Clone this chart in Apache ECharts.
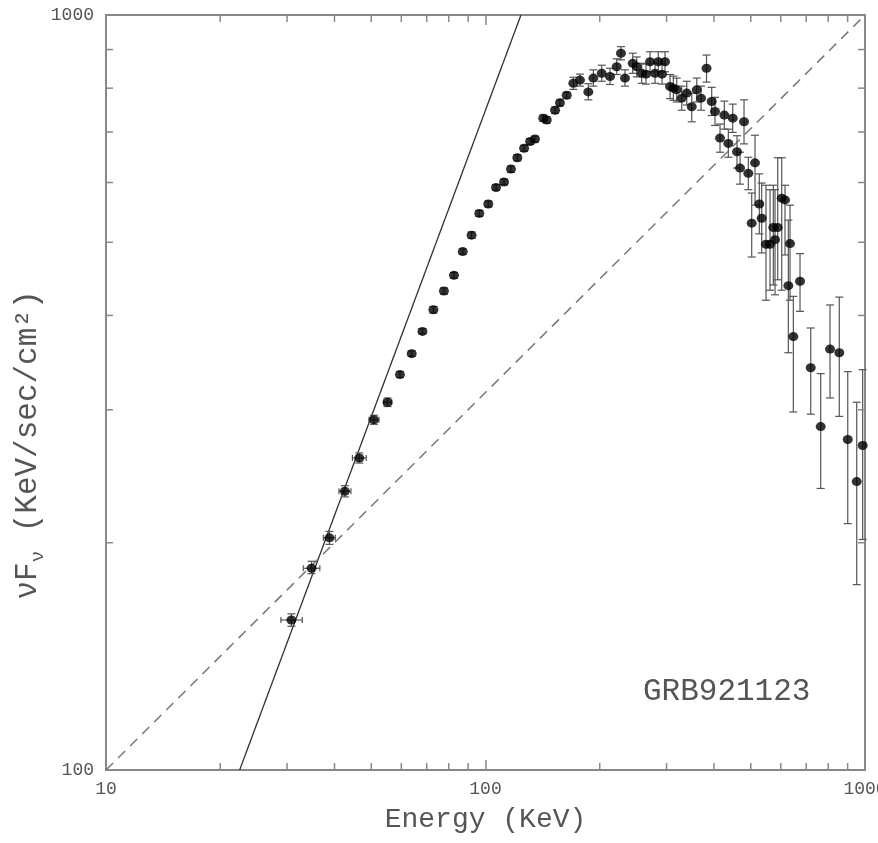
<!DOCTYPE html>
<html><head><meta charset="utf-8">
<script src="https://cdn.jsdelivr.net/npm/echarts@6/dist/echarts.min.js"></script>
<style>html,body{margin:0;padding:0;background:#fff}#c{width:878px;height:843px}</style>
</head><body><div id="c"></div>
<script>
// Photon energy (KeV) of each measured point
const energy = [30.8,34.8,38.8,42.6,46.5,50.8,55.2,59.5,63.9,68.2,
  72.9,77.7,82.6,87.1,91.9,96.3,101.7,106.6,111.9,116.7,
  121.3,126.4,131.1,135.0,142.0,145.0,152.5,157.1,163.7,170.4,
  177.4,186.6,192.4,202.4,212.9,221.7,227.5,233.1,244.3,250.3,
  258.0,264.8,271.4,279.7,285.3,291.8,297.2,306.4,312.6,319.1,
  328.9,339.1,349.5,360.3,369.8,382.3,394.5,402.5,414.9,425.9,
  436.4,448.2,460.0,468.5,480.0,492.7,502.9,513.1,526.6,534.3,
  548.4,562.0,573.4,579.3,588.8,603.3,615.5,628.1,634.5,647.4,
  674.2,719.4,764.3,808.8,855.6,900.6,951,986];
// nuF_nu (KeV/sec/cm^2)
const flux = [158,185,203,234,259,291,307,334,356,381,
  407,431,452,486,511,546,562,591,601,625,
  647,666,680,685,730,726,748,765,783,812,
  820,791,825,837,829,854,890,825,863,854,
  837,835,867,837,867,835,867,804,800,796,
  776,788,756,796,776,850,768,745,687,737,
  676,730,659,627,722,617,530,637,562,538,
  497,497,523,504,523,572,569,438,498,375,
  444,341,285,361,357,274,241,269];
const fluxLow = [155,182,199,230,255,287,303,331,353,378,
  403,427,448,482,506,541,557,586,596,619,
  641,660,674,679,723,719,741,758,776,797,
  805,772,805,817,809,834,872,805,837,828,
  812,810,841,812,841,810,841,775,771,767,
  748,760,722,767,748,815,736,714,658,706,
  648,699,627,597,675,587,478,560,513,484,
  419,432,439,426,446,432,481,357,419,298,
  405,296,236,311,294,212,176,202];
const fluxHigh = [161,189,207,238,263,295,311,337,359,384,
  411,435,456,490,516,551,567,596,606,631,
  653,672,686,691,737,733,755,772,790,827,
  835,811,846,858,850,875,908,846,890,880,
  863,861,894,863,894,861,894,834,830,825,
  805,817,788,825,805,885,802,778,717,769,
  706,762,692,658,772,648,581,693,616,599,
  595,587,595,587,647,647,595,535,560,424,
  483,385,335,413,423,337,307,339];
// horizontal (energy) error bars of the first low-energy points
const energyLow = [28.9,33.1,37.4,41.1,44.6,49.3,53.9];
const energyHigh = [32.9,36.6,40.2,44.2,48.5,52.4,56.6];
// model lines
const steepE = [22.5, 124];
const steepF = [100, 1000];
const shallowE = [10, 1000];
const shallowF = [100, 1000];
// minor tick positions
const xMinorTicks = [20,30,40,50,60,70,80,90,200,300,400,500,600,700,800,900];
const yMinorTicks = [200,300,400,500,600,700,800,900];
const xRange = [10, 1000];
const yRange = [100, 1000];
const labelText = 'GRB921123';

const FONT = '"Liberation Mono", "DejaVu Sans Mono", monospace';
const AXC = '#888';
const TXT = '#555';

const chart = echarts.init(document.getElementById('c'));

function logAxis(pos, range, showLabel, extra) {
  return Object.assign({
    type: 'log', logBase: 10, position: pos, min: range[0], max: range[1],
    axisLine: {show: true, lineStyle: {color: AXC, width: 2}},
    axisTick: {show: true, inside: true, length: 10, lineStyle: {color: AXC, width: 1.5}},
    splitLine: {show: false},
    axisLabel: {show: showLabel, color: TXT, fontFamily: FONT, fontSize: 18,
      formatter: v => String(Math.round(v))}
  }, extra || {});
}

const errData = energy.map((e, i) => [e, flux[i], i]);

chart.setOption({
  animation: false,
  backgroundColor: '#fff',
  grid: {left: 106, right: 13, top: 15, bottom: 73, containLabel: false, outerBoundsMode: 'none'},
  xAxis: [
    logAxis('bottom', xRange, true, {
      name: 'Energy (KeV)', nameLocation: 'middle', nameGap: 36,
      nameTextStyle: {color: TXT, fontFamily: FONT, fontSize: 28},
      axisLabel: {show: true, color: TXT, fontFamily: FONT, fontSize: 18, margin: 10,
        formatter: v => String(Math.round(v))}
    }),
    logAxis('top', xRange, false)
  ],
  yAxis: [
    logAxis('left', yRange, true, {
      axisLabel: {show: true, color: TXT, fontFamily: FONT, fontSize: 18, margin: 12,
        formatter: v => String(Math.round(v))}
    }),
    logAxis('right', yRange, false)
  ],
  graphic: [
    {type: 'text', left: 643, top: 676, z: 10,
      style: {text: labelText, fill: TXT, font: '31px ' + FONT}},
    {type: 'text', x: 28, y: 445, rotation: Math.PI / 2, z: 10,
      style: {
        text: '{a|νF}{s|ν}{a| (KeV/sec/cm²)}',
        align: 'center', verticalAlign: 'middle',
        rich: {
          a: {fill: TXT, fontFamily: FONT, fontSize: 31, lineHeight: 38, verticalAlign: 'middle'},
          s: {fill: TXT, fontFamily: FONT, fontSize: 19, lineHeight: 38, verticalAlign: 'bottom', padding: [10, 0, 0, 0]}
        }
      }}
  ],
  series: [
    {type: 'line', xAxisIndex: 0, yAxisIndex: 0, symbol: 'none', silent: true, z: 1,
      data: steepE.map((e, i) => [e, steepF[i]]),
      lineStyle: {color: '#333', width: 1.3}},
    {type: 'line', xAxisIndex: 0, yAxisIndex: 0, symbol: 'none', silent: true, z: 1,
      data: shallowE.map((e, i) => [e, shallowF[i]]),
      lineStyle: {color: '#777', width: 1.5, type: [10, 7]}},
    {type: 'custom', xAxisIndex: 0, yAxisIndex: 0, z: 2, silent: true,
      data: errData,
      renderItem: function (params, api) {
        const i = api.value(2);
        const e = energy[i];
        const st = {stroke: '#555', lineWidth: 1.2};
        const top = api.coord([e, fluxHigh[i]]);
        const bot = api.coord([e, fluxLow[i]]);
        const ch = [
          {type: 'line', shape: {x1: top[0], y1: top[1], x2: bot[0], y2: bot[1]}, style: st},
          {type: 'line', shape: {x1: top[0] - 4, y1: top[1], x2: top[0] + 4, y2: top[1]}, style: st},
          {type: 'line', shape: {x1: bot[0] - 4, y1: bot[1], x2: bot[0] + 4, y2: bot[1]}, style: st}
        ];
        if (i < energyLow.length) {
          const l = api.coord([energyLow[i], flux[i]]);
          const r = api.coord([energyHigh[i], flux[i]]);
          ch.push({type: 'line', shape: {x1: l[0], y1: l[1], x2: r[0], y2: r[1]}, style: st});
          ch.push({type: 'line', shape: {x1: l[0], y1: l[1] - 3, x2: l[0], y2: l[1] + 3}, style: st});
          ch.push({type: 'line', shape: {x1: r[0], y1: r[1] - 3, x2: r[0], y2: r[1] + 3}, style: st});
        }
        return {type: 'group', children: ch};
      }},
    {type: 'scatter', xAxisIndex: 0, yAxisIndex: 0, z: 3, silent: true,
      symbol: 'circle', symbolSize: [10, 9],
      itemStyle: {color: '#000'},
      data: energy.map((e, i) => [e, flux[i]])},
    {type: 'custom', xAxisIndex: 0, yAxisIndex: 0, z: 4, silent: true,
      data: xMinorTicks.map(v => [v, yRange[0]]),
      renderItem: function (params, api) {
        const v = api.value(0);
        const b = api.coord([v, yRange[0]]);
        const t = api.coord([v, yRange[1]]);
        const st = {stroke: AXC, lineWidth: 1.5};
        return {type: 'group', children: [
          {type: 'line', shape: {x1: b[0], y1: b[1], x2: b[0], y2: b[1] - 7}, style: st},
          {type: 'line', shape: {x1: t[0], y1: t[1], x2: t[0], y2: t[1] + 7}, style: st}
        ]};
      }},
    {type: 'custom', xAxisIndex: 0, yAxisIndex: 0, z: 4, silent: true,
      data: yMinorTicks.map(v => [xRange[0], v]),
      renderItem: function (params, api) {
        const v = api.value(1);
        const l = api.coord([xRange[0], v]);
        const r = api.coord([xRange[1], v]);
        const st = {stroke: AXC, lineWidth: 1.5};
        return {type: 'group', children: [
          {type: 'line', shape: {x1: l[0], y1: l[1], x2: l[0] + 7, y2: l[1]}, style: st},
          {type: 'line', shape: {x1: r[0], y1: r[1], x2: r[0] - 7, y2: r[1]}, style: st}
        ]};
      }}
  ]
});
</script></body></html>
